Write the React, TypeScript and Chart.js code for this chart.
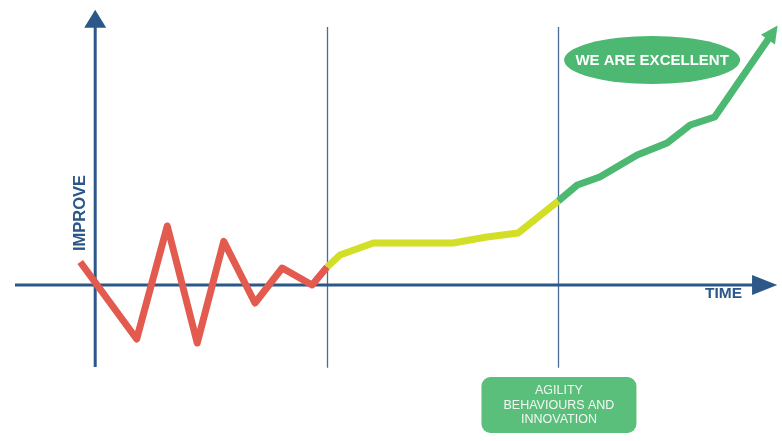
import React, { useEffect, useRef } from "react";
import { Chart, registerables } from "chart.js";

Chart.register(...registerables);

// time (x) and improvement (y) values
const redX = [-2.2, 6.1, 10.6, 15.0, 18.9, 23.5, 27.5, 31.9, 34.1];
const redY = [5.75, -13.5, 14.75, -14.5, 10.9, -4.5, 4.25, 0, 4.5];
const yellowX = [34.1, 36.0, 40.9, 52.6, 57.6, 62.2, 68.1];
const yellowY = [4.5, 7.5, 10.5, 10.5, 12, 13, 21.0];
const greenX = [68.1, 70.9, 74.2, 79.7, 84.1, 87.5, 91.1, 99.6];
const greenY = [21.0, 25, 27, 32.5, 35.5, 40, 42, 63];
const phaseLines = [34.1, 68.1];
const axisLabels = ["IMPROVE", "TIME"];
const calloutTop = "WE ARE EXCELLENT";
const calloutBottom = ["AGILITY", "BEHAVIOURS AND", "INNOVATION"];

const X_MIN = -14;
const X_MAX = 101;
const Y_MIN = -39;
const Y_MAX = 71.25;

const RED = "#E25B4E";
const YELLOW = "#D3DE27";
const GREEN = "#4DB871";
const AXIS = "#2B5789";
const FONT = "'Liberation Sans', Arial, sans-serif";

function zip(xs: number[], ys: number[]) {
  return xs.map((x, i) => ({ x, y: ys[i] }));
}

const decorPlugin = {
  id: "decor",
  beforeDatasetsDraw(chart: any) {
    const { ctx, scales } = chart;
    const xs = scales.x;
    const ys = scales.y;
    const x0 = xs.getPixelForValue(0);
    const y0 = ys.getPixelForValue(0);
    ctx.save();
    // phase lines
    ctx.strokeStyle = "#4A6C97";
    ctx.lineWidth = 1.3;
    phaseLines.forEach((v) => {
      const px = Math.round(xs.getPixelForValue(v)) + 0.5;
      ctx.beginPath();
      ctx.moveTo(px, ys.getPixelForValue(64.5));
      ctx.lineTo(px, ys.getPixelForValue(-20.7));
      ctx.stroke();
    });
    // axes
    ctx.strokeStyle = AXIS;
    ctx.fillStyle = AXIS;
    ctx.lineWidth = 3;
    ctx.beginPath();
    ctx.moveTo(x0, ys.getPixelForValue(-20.5));
    ctx.lineTo(x0, ys.getPixelForValue(66));
    ctx.stroke();
    ctx.beginPath();
    ctx.moveTo(x0 - 11, ys.getPixelForValue(64.3));
    ctx.lineTo(x0 + 11, ys.getPixelForValue(64.3));
    ctx.lineTo(x0, ys.getPixelForValue(68.8));
    ctx.closePath();
    ctx.fill();
    ctx.beginPath();
    ctx.moveTo(xs.getPixelForValue(-11.8), y0);
    ctx.lineTo(xs.getPixelForValue(97.5), y0);
    ctx.stroke();
    ctx.beginPath();
    ctx.moveTo(xs.getPixelForValue(96.6), y0 - 10);
    ctx.lineTo(xs.getPixelForValue(96.6), y0 + 10);
    ctx.lineTo(xs.getPixelForValue(100.3), y0);
    ctx.closePath();
    ctx.fill();
    ctx.restore();
  },
  afterDatasetsDraw(chart: any) {
    const { ctx, scales } = chart;
    const xs = scales.x;
    const ys = scales.y;
    ctx.save();
    // arrow head on green line
    const n = greenX.length;
    const ax = xs.getPixelForValue(greenX[n - 1]);
    const ay = ys.getPixelForValue(greenY[n - 1]);
    const bx = xs.getPixelForValue(greenX[n - 2]);
    const by = ys.getPixelForValue(greenY[n - 2]);
    const len = Math.hypot(ax - bx, ay - by);
    const ux = (ax - bx) / len;
    const uy = (ay - by) / len;
    const tipX = ax + ux * 9;
    const tipY = ay + uy * 9;
    const baseX = tipX - ux * 17;
    const baseY = tipY - uy * 17;
    ctx.fillStyle = GREEN;
    ctx.beginPath();
    ctx.moveTo(tipX, tipY);
    ctx.lineTo(baseX - uy * 8.5, baseY + ux * 8.5);
    ctx.lineTo(baseX + uy * 8.5, baseY - ux * 8.5);
    ctx.closePath();
    ctx.fill();

    // axis labels
    ctx.fillStyle = AXIS;
    ctx.font = `bold 16.5px ${FONT}`;
    ctx.textAlign = "center";
    ctx.textBaseline = "middle";
    ctx.save();
    ctx.translate(xs.getPixelForValue(-2.2), ys.getPixelForValue(18.0));
    ctx.rotate(-Math.PI / 2);
    ctx.fillText(axisLabels[0], 0, 0);
    ctx.restore();
    ctx.font = `bold 15.5px ${FONT}`;
    ctx.fillText(axisLabels[1], xs.getPixelForValue(92.4), ys.getPixelForValue(-2.1));

    // top callout ellipse
    const ecx = xs.getPixelForValue(81.9);
    const ecy = ys.getPixelForValue(56.25);
    ctx.fillStyle = GREEN;
    ctx.beginPath();
    ctx.ellipse(ecx, ecy, 88, 24, 0, 0, Math.PI * 2);
    ctx.fill();
    ctx.fillStyle = "#FFFFFF";
    ctx.font = `bold 15px ${FONT}`;
    ctx.fillText(calloutTop, ecx, ecy + 1);

    // bottom callout rounded rect
    const rx = xs.getPixelForValue(56.8);
    const ry = ys.getPixelForValue(-23);
    const rw = 155;
    const rh = 56;
    ctx.fillStyle = "#5BBF7C";
    ctx.beginPath();
    (ctx as any).roundRect(rx, ry, rw, rh, 9);
    ctx.fill();
    ctx.fillStyle = "#F4F8F4";
    ctx.font = `12.5px ${FONT}`;
    calloutBottom.forEach((t, i) => {
      ctx.fillText(t, rx + rw / 2, ry + 14 + i * 14.5);
    });
    ctx.restore();
  },
};

export default function App() {
  const ref = useRef<HTMLCanvasElement>(null);
  useEffect(() => {
    if (!ref.current) return;
    const common = {
      pointRadius: 0,
      borderWidth: 7,
      fill: false,
      tension: 0,
      borderJoinStyle: "round" as const,
      borderCapStyle: "butt" as const,
    };
    const chart = new Chart(ref.current, {
      type: "line",
      data: {
        datasets: [
          { ...common, label: "yellow", data: zip(yellowX, yellowY), borderColor: YELLOW },
          { ...common, label: "green", data: zip(greenX, greenY), borderColor: GREEN },
          { ...common, label: "red", data: zip(redX, redY), borderColor: RED },
        ],
      },
      options: {
        animation: false,
        responsive: false,
        layout: { padding: 0 },
        plugins: { legend: { display: false }, tooltip: { enabled: false } },
        scales: {
          x: { type: "linear", min: X_MIN, max: X_MAX, display: false },
          y: { type: "linear", min: Y_MIN, max: Y_MAX, display: false },
        },
      },
      plugins: [decorPlugin],
    });
    return () => chart.destroy();
  }, []);
  return (
    <div style={{ position: "fixed", left: 0, top: 0, width: 782, height: 441, background: "#FFFFFF" }}>
      <canvas ref={ref} width={782} height={441} style={{ display: "block" }} />
    </div>
  );
}
